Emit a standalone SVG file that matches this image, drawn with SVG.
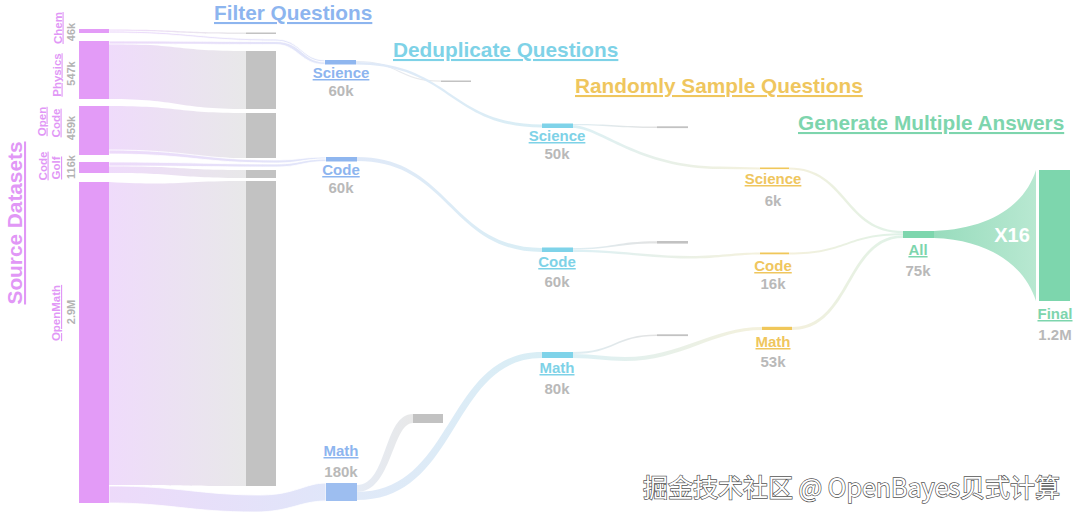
<svg xmlns="http://www.w3.org/2000/svg" width="1080" height="521" viewBox="0 0 1080 521">
<style>
text{font-family:"Liberation Sans",Arial,sans-serif;font-weight:bold}
.h{font-size:20.8px;text-decoration:underline}
.lbl{font-size:15px;text-anchor:middle;text-decoration:underline}
.num{font-size:15px;text-anchor:middle;fill:#b9b9b9}
.src{font-size:11.5px;text-anchor:middle;fill:#e197f6;text-decoration:underline}
.srcn{font-size:11px;text-anchor:middle;fill:#b3b3b3}
.pink{fill:#e39bf7}
.gray{fill:#c2c2c2}
.blue{fill:#8fb6ef}
.cyan{fill:#7fd3e9}
.yel{fill:#f0c75a}
.grn{fill:#7dd6ad}
.tb{fill:#8db5ef}
.tc{fill:#7ed2e7}
.ty{fill:#efc65e}
.tg{fill:#7dd5ad}
.thin{stroke:#ffffff;stroke-width:0.8}
</style>
<defs>
<linearGradient id="gPG" x1="0" y1="0" x2="1" y2="0"><stop offset="0" stop-color="#efdbfb"/><stop offset="1" stop-color="#e8e8e9"/></linearGradient>
<linearGradient id="gPB" x1="0" y1="0" x2="1" y2="0"><stop offset="0" stop-color="#eddafa"/><stop offset="1" stop-color="#e0e6f9"/></linearGradient>
<linearGradient id="gBC" x1="0" y1="0" x2="1" y2="0"><stop offset="0" stop-color="#e0e9f8"/><stop offset="1" stop-color="#d9eef5"/></linearGradient>
<linearGradient id="gBG" x1="0" y1="0" x2="1" y2="0"><stop offset="0" stop-color="#e5ebf5"/><stop offset="1" stop-color="#e8e8e8"/></linearGradient>
<linearGradient id="gCG" x1="0" y1="0" x2="1" y2="0"><stop offset="0" stop-color="#dfeef3"/><stop offset="1" stop-color="#e2e2e2"/></linearGradient>
<linearGradient id="gCY" x1="0" y1="0" x2="1" y2="0"><stop offset="0" stop-color="#dcf0f5"/><stop offset="1" stop-color="#f4f1dc"/></linearGradient>
<linearGradient id="gYG" x1="0" y1="0" x2="1" y2="0"><stop offset="0" stop-color="#f4f0dc"/><stop offset="1" stop-color="#dff2e8"/></linearGradient>
<linearGradient id="gFan" x1="0" y1="0" x2="1" y2="0"><stop offset="0" stop-color="#98dcbd"/><stop offset="1" stop-color="#b8e8d1"/></linearGradient>
</defs>
<rect width="1080" height="521" fill="#ffffff"/>

<g id="titles">
<text class="h tb" x="214" y="20">Filter Questions</text>
<text class="h tc" x="393" y="57">Deduplicate Questions</text>
<text class="h ty" x="575" y="93">Randomly Sample Questions</text>
<text class="h tg" x="798" y="130">Generate Multiple Answers</text>
<text class="h" fill="#e197f6" font-size="21" text-anchor="middle" transform="translate(22,223) rotate(-90)">Source Datasets</text>
</g>

<g id="connectors">
<!-- source to filtered-out (gray) -->
<path fill="url(#gPG)" d="M109,29.5 C180,29.5 175,32.5 246,32.5 L246,34 C175,34 180,31 109,31 Z"/>
<path fill="url(#gPG)" d="M109,44 C180,44 175,51 246,51 L246,109 C175,109 180,99 109,99 Z"/>
<path fill="url(#gPG)" d="M109,106 C180,106 175,113 246,113 L246,158 C175,158 180,150 109,150 Z"/>
<path fill="url(#gPG)" d="M109,166 C180,166 175,170 246,170 L246,178 C175,178 180,173 109,173 Z"/>
<path fill="url(#gPG)" d="M109,182 C180,186 175,181 246,181 L246,486 C175,486 180,485 109,485 Z"/>
<!-- source to filter nodes -->
<path class="thin" fill="url(#gPB)" d="M109,31 C190,31 200,39 276,39 C300,39 302,60 325,60 L325,62 C300,62 298,41 276,41 C200,41 190,33 109,33 Z"/>
<path class="thin" fill="url(#gPB)" d="M109,41 C190,41 200,41.5 276,41.5 C302,41.5 302,62 325,62 L325,64.5 C300,64.5 298,44.5 276,44.5 C200,44.5 190,44 109,44 Z"/>
<path class="thin" fill="url(#gPB)" d="M109,150 C190,150 200,160 276,160 C300,160 302,157 326,157 L326,159 C302,159 300,163 276,163 C200,163 190,154 109,154 Z"/>
<path class="thin" fill="url(#gPB)" d="M109,162 C190,162 200,164 276,164 C300,164 302,159 326,159 L326,161.5 C302,161.5 300,167 276,167 C200,167 190,166 109,166 Z"/>
<path class="thin" fill="url(#gPB)" d="M109,486 C180,486 200,495 260,495 C295,495 305,483 326,483 L326,501 C300,501 290,512 255,512 C190,512 170,503 109,503 Z"/>
<!-- filter to dedup -->
<path fill="url(#gBG)" d="M356,61 C400,61 398,80.5 441,80.5 L441,81.8 C398,81.8 400,62 356,62 Z"/>
<path fill="url(#gBC)" d="M356,62 C450,62 450,124.5 542,124.5 L542,127.5 C450,127.5 450,64.5 356,64.5 Z"/>
<path fill="url(#gBC)" d="M357,157 C450,157 450,248 542,248 L542,252 C450,252 450,161 357,161 Z"/>
<path fill="url(#gBG)" d="M357,485 C388,485 383,414 413,414 L413,423 C392,423 392,492 357,492 Z"/>
<path fill="url(#gBC)" d="M357,492 C455,492 445,352 542,352 L542,358 C450,358 460,500 357,500 Z"/>
<!-- dedup to sample -->
<path fill="url(#gCG)" d="M573,124 C615,124 615,126.5 657,126.5 L657,128 C615,128 615,125.2 573,125.2 Z"/>
<path fill="url(#gCY)" d="M573,125.2 C600,125.2 640,166.5 720,166.5 L760,167.5 L760,169.5 L720,169 C638,169 600,128 573,128 Z"/>
<path fill="url(#gCG)" d="M573,248 C615,248 615,241.2 657,241.2 L657,243.5 C615,243.5 615,249.5 573,249.5 Z"/>
<path fill="url(#gCY)" d="M573,249.5 C620,250 650,256 690,256 C720,256 735,252.5 760,252.5 L760,254.5 C735,254.5 720,258.5 690,258.5 C650,258.5 620,252 573,252 Z"/>
<path fill="url(#gCG)" d="M573,352 C615,352 615,334.5 657,334.5 L657,336 C615,336 615,354 573,354 Z"/>
<path fill="url(#gCY)" d="M573,354 C595,354 605,357 625,357 C680,357 712,327 762,327 L762,330 C714,330 682,361 625,361 C605,361 595,358 573,358 Z"/>
<!-- sample to all -->
<path fill="url(#gYG)" d="M789,167.5 C848,167.5 845,231 903,231 L903,233.2 C843,233.2 846,169.5 789,169.5 Z"/>
<path fill="url(#gYG)" d="M789,252.5 C848,252.5 845,233.2 903,233.2 L903,235.2 C845,235.2 848,254.5 789,254.5 Z"/>
<path fill="url(#gYG)" d="M792,327 C850,327 845,235.2 903,235.2 L903,238 C847,238 852,330 792,330 Z"/>
<!-- all to final -->
<path fill="url(#gFan)" d="M934,231 C990,229 1025,205 1036,170 L1036,301 C1025,266 990,240 934,238 Z"/>
</g>

<g id="node-chem">
<rect class="pink" x="79" y="29" width="30" height="4"/>
<text class="src" transform="translate(61.5,28) rotate(-90)">Chem</text>
<text class="srcn" transform="translate(75,32) rotate(-90)">46k</text>
</g>
<g id="node-physics">
<rect class="pink" x="79" y="41" width="30" height="58"/>
<text class="src" transform="translate(60.5,75) rotate(-90)">Physics</text>
<text class="srcn" transform="translate(75,73.5) rotate(-90)">547k</text>
</g>
<g id="node-opencode">
<rect class="pink" x="79" y="106" width="30" height="49"/>
<text class="src" transform="translate(45.5,121.5) rotate(-90)">Open</text>
<text class="src" transform="translate(59.5,123) rotate(-90)">Code</text>
<text class="srcn" transform="translate(75,128) rotate(-90)">459k</text>
</g>
<g id="node-codegolf">
<rect class="pink" x="79" y="162" width="30" height="11"/>
<text class="src" transform="translate(46.5,166) rotate(-90)">Code</text>
<text class="src" transform="translate(60,168) rotate(-90)">Golf</text>
<text class="srcn" transform="translate(75,167) rotate(-90)">116k</text>
</g>
<g id="node-openmath">
<rect class="pink" x="79" y="182" width="30" height="321"/>
<text class="src" transform="translate(60,313) rotate(-90)">OpenMath</text>
<text class="srcn" transform="translate(75,312) rotate(-90)">2.9M</text>
</g>

<g id="node-filtered-out">
<rect class="gray" x="246" y="32.5" width="30" height="1.5"/>
<rect class="gray" x="246" y="51" width="30" height="58"/>
<rect class="gray" x="246" y="113" width="30" height="45"/>
<rect class="gray" x="246" y="170" width="30" height="8"/>
<rect class="gray" x="246" y="181" width="30" height="305"/>
</g>

<g id="node-filter-science">
<rect class="blue" x="325" y="60" width="31" height="4.5"/>
<text class="lbl tb" x="341" y="78">Science</text>
<text class="num" x="341" y="96">60k</text>
</g>
<g id="node-filter-code">
<rect class="blue" x="326" y="157" width="31" height="4.5"/>
<text class="lbl tb" x="341" y="175">Code</text>
<text class="num" x="341" y="193">60k</text>
</g>
<g id="node-filter-math">
<rect fill="#9dbef0" x="326" y="483" width="31" height="18"/>
<text class="lbl tb" x="341" y="456">Math</text>
<text class="num" x="341" y="477">180k</text>
</g>

<g id="node-dedup-removed">
<rect class="gray" x="441" y="80.5" width="30" height="1.5"/>
<rect class="gray" x="413" y="414" width="30" height="9"/>
</g>

<g id="node-dedup-science">
<rect class="cyan" x="542" y="123.5" width="31" height="4.5"/>
<text class="lbl tc" x="557" y="141">Science</text>
<text class="num" x="557" y="159">50k</text>
</g>
<g id="node-dedup-code">
<rect class="cyan" x="542" y="247.5" width="31" height="4.5"/>
<text class="lbl tc" x="557" y="267">Code</text>
<text class="num" x="557" y="287">60k</text>
</g>
<g id="node-dedup-math">
<rect class="cyan" x="542" y="352" width="31" height="6"/>
<text class="lbl tc" x="557" y="373">Math</text>
<text class="num" x="557" y="394">80k</text>
</g>

<g id="node-sample-removed">
<rect class="gray" x="657" y="126.3" width="31" height="1.8"/>
<rect class="gray" x="657" y="241" width="31" height="2.6"/>
<rect class="gray" x="657" y="334.3" width="31" height="1.8"/>
</g>

<g id="node-sample-science">
<rect class="yel" x="760" y="167.5" width="29" height="1.6"/>
<text class="lbl ty" x="773" y="184">Science</text>
<text class="num" x="773" y="206">6k</text>
</g>
<g id="node-sample-code">
<rect class="yel" x="760" y="252.5" width="29" height="1.8"/>
<text class="lbl ty" x="773" y="271">Code</text>
<text class="num" x="773" y="289">16k</text>
</g>
<g id="node-sample-math">
<rect class="yel" x="762" y="326.8" width="30" height="3.2"/>
<text class="lbl ty" x="773" y="347">Math</text>
<text class="num" x="773" y="367">53k</text>
</g>

<g id="node-all">
<rect class="grn" x="903" y="231" width="31" height="7"/>
<text class="lbl tg" x="918" y="255">All</text>
<text class="num" x="918" y="276">75k</text>
</g>
<g id="node-final">
<rect class="grn" x="1039" y="170" width="31" height="131"/>
<text class="lbl tg" x="1055" y="319">Final</text>
<text class="num" x="1055" y="340">1.2M</text>
</g>
<text x="1012" y="242" font-size="20" fill="#ffffff" text-anchor="middle">X16</text>

<text x="643" y="497" font-size="25" fill="#ffffff" stroke="#555555" stroke-width="1.4" paint-order="stroke" style="font-weight:normal;font-family:'Noto Sans CJK SC','Liberation Sans',sans-serif">掘金技术社区 @ OpenBayes贝式计算</text>
</svg>
